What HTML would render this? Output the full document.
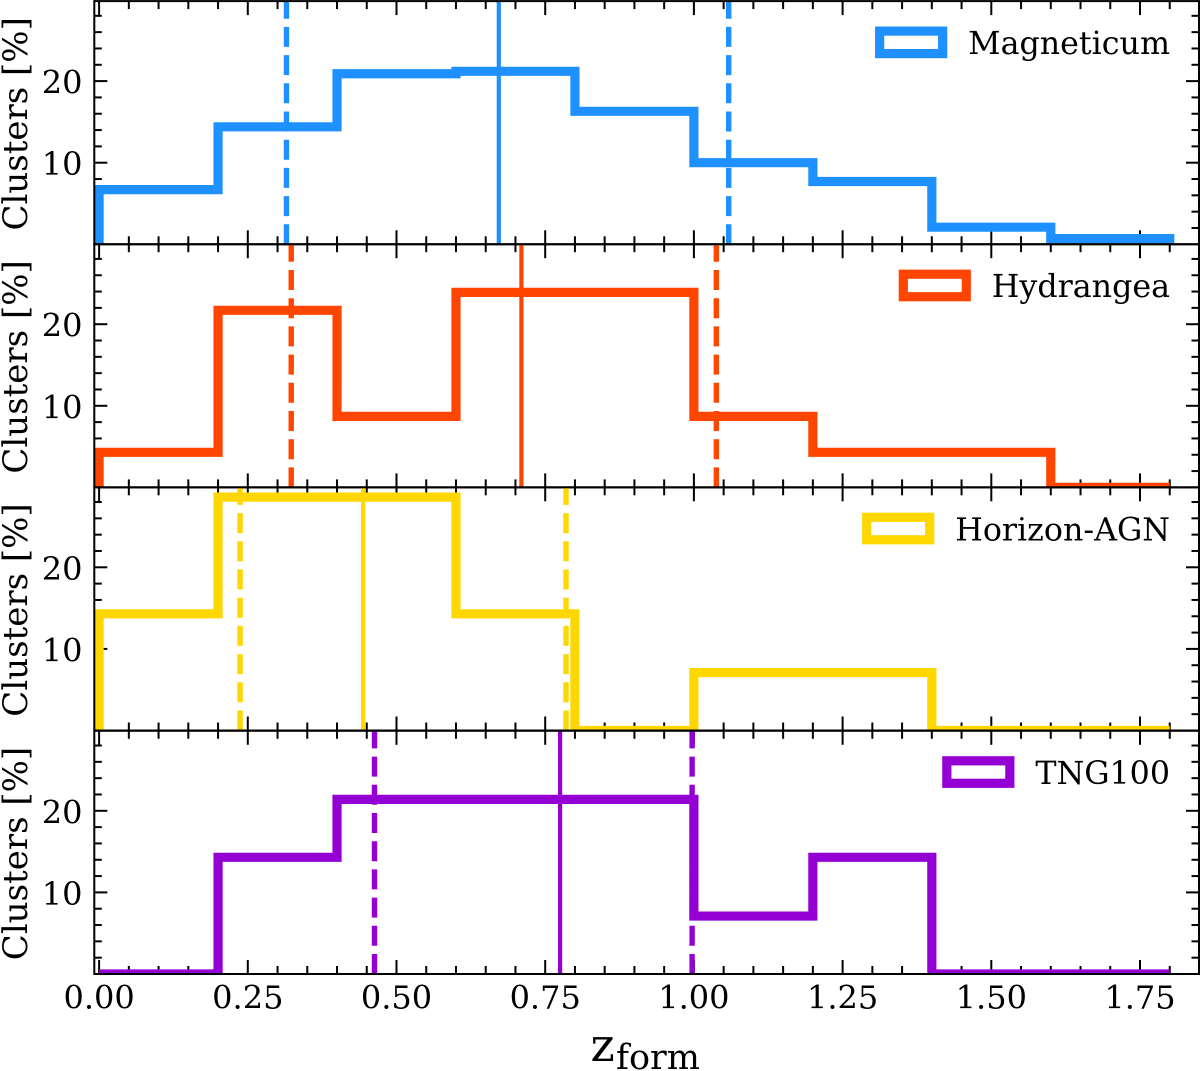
<!DOCTYPE html>
<html>
<head>
<meta charset="utf-8">
<title>Cluster formation redshift histograms</title>
<style>
html,body{margin:0;padding:0;background:#fff;width:1200px;height:1071px;overflow:hidden}
svg{display:block}
text{font-family:"DejaVu Serif","Liberation Serif",serif;fill:#000}
</style>
</head>
<body>
<svg id="chart" width="1200" height="1071" viewBox="0 0 1200 1071" xmlns="http://www.w3.org/2000/svg"></svg>
<script>
const binEdges = [0, 0.2, 0.4, 0.6, 0.8, 1.0, 1.2, 1.4, 1.6, 1.8];
const simulations = ['Magneticum', 'Hydrangea', 'Horizon-AGN', 'TNG100'];
const magneticumValues = [6.7, 14.4, 20.9, 21.2, 16.3, 10.0, 7.7, 2.1, 0.7];
const hydrangeaValues = [4.3, 21.7, 8.7, 23.9, 23.9, 8.7, 4.3, 4.3, 0];
const horizonValues = [14.3, 28.6, 28.6, 14.3, 0, 7.1, 7.1, 0, 0];
const tngValues = [0, 14.3, 21.4, 21.4, 21.4, 7.1, 14.3, 0, 0];
const medians = [0.672, 0.71, 0.444, 0.775];
const lowerQuartiles = [0.315, 0.323, 0.237, 0.463];
const upperQuartiles = [1.0585, 1.0377, 0.785, 0.997];
const xTickLabels = ['0.00', '0.25', '0.50', '0.75', '1.00', '1.25', '1.50', '1.75'];
const xMajorTicks = [0, 0.25, 0.5, 0.75, 1.0, 1.25, 1.5, 1.75];
const yMajorTicks = [10, 20];
const yTickLabels = ['10', '20'];
const colors = ['#1E90FF', '#FF4500', '#FFD700', '#9400D3'];

const allValues = [magneticumValues, hydrangeaValues, horizonValues, tngValues];
const NS = 'http://www.w3.org/2000/svg';
const svg = document.getElementById('chart');
const left = 94.3, right = 1199;
const panelBottoms = [244.3, 487.4, 730.5, 974];
const panelHeight = 243.2;
const xScale = z => 99.1 + z * 594.8;
const yScale = (v, i) => panelBottoms[i] - v * 8.16;

function make(tag, attrs, parent, text) {
  const el = document.createElementNS(NS, tag);
  for (const k in attrs) el.setAttribute(k, attrs[k]);
  if (text !== undefined) el.textContent = text;
  parent.appendChild(el);
  return el;
}

const defs = make('defs', {}, svg);

simulations.forEach((name, i) => {
  const key = name.toLowerCase();
  const bottom = panelBottoms[i];
  const top = bottom - panelHeight;
  const color = colors[i];

  const clip = make('clipPath', { id: 'clip' + i }, defs);
  make('rect', { x: left, y: top, width: right - left, height: panelHeight }, clip);

  const panel = make('g', {}, svg);
  
  

  // Ticks
  const ticks = make('g', { stroke: '#000', 'stroke-width': 2, fill: 'none' }, panel);
  
  
  for (let n = 0; n * 0.05 <= 1.81; n++) {
    const z = n * 0.05;
    const len = n % 5 === 0 ? 14 : 8;
    const xp = xScale(z);
    make('line', { x1: xp, x2: xp, y1: bottom, y2: bottom - len }, ticks);
    make('line', { x1: xp, x2: xp, y1: top, y2: top + len }, ticks);
  }
  for (let v = 2; v <= 28; v += 2) {
    const len = yMajorTicks.includes(v) ? 13 : 7.5;
    const yp = yScale(v, i);
    make('line', { x1: left, x2: left + len, y1: yp, y2: yp }, ticks);
    make('line', { x1: right, x2: right - len, y1: yp, y2: yp }, ticks);
  }

  // Histogram + reference lines
  const clipped = make('g', { 'clip-path': 'url(#clip' + i + ')' }, panel);
  const vals = allValues[i];
  let d = 'M' + xScale(binEdges[0]) + ' ' + yScale(0, i);
  vals.forEach((v, b) => {
    d += 'L' + xScale(binEdges[b]) + ' ' + yScale(v, i);
    d += 'L' + xScale(binEdges[b + 1]) + ' ' + yScale(v, i);
  });
  d += 'L' + xScale(binEdges[binEdges.length - 1]) + ' ' + yScale(0, i);
  const hist = make('path', { d: d, fill: 'none', stroke: color, 'stroke-width': 9.2, 'stroke-linejoin': 'miter', 'stroke-linecap': 'butt' }, clipped);
  
  

  const med = make('line', { x1: xScale(medians[i]), x2: xScale(medians[i]), y1: bottom, y2: top, stroke: color, 'stroke-width': 4.2 }, clipped);
  
  

  const lo = make('line', { x1: xScale(lowerQuartiles[i]), x2: xScale(lowerQuartiles[i]), y1: bottom, y2: top, stroke: color, 'stroke-width': 5.4, 'stroke-dasharray': '20 8.2' }, clipped);
  
  

  const hi = make('line', { x1: xScale(upperQuartiles[i]), x2: xScale(upperQuartiles[i]), y1: bottom, y2: top, stroke: color, 'stroke-width': 5.4, 'stroke-dasharray': '20 8.2' }, clipped);
  
  

  // Spines
  const frame = make('rect', { x: left, y: top, width: right - left, height: panelHeight, fill: 'none', stroke: '#000', 'stroke-width': 2 }, panel);
  
  

  // Y tick labels
  yMajorTicks.forEach((v, t) => {
    const lab = make('text', { x: 82.5, y: yScale(v, i) + 12.5, 'text-anchor': 'end', 'font-size': 32 }, panel, yTickLabels[t]);
    
    
  });

  // Y axis title
  const cy = bottom - 120.5;
  const yTitle = make('text', { x: 0, y: 0, transform: 'translate(27 ' + cy + ') rotate(-90)', 'text-anchor': 'middle', 'font-size': 34 }, panel, 'Clusters [%]');
  
  

  // Legend
  const legend = make('g', {}, panel);
  
  
  const legendText = make('text', { x: 1170, y: top + 53, 'text-anchor': 'end', 'font-size': 31.7 }, legend, name);
  
  
  const tw = legendText.getComputedTextLength();
  const swatch = make('rect', { x: 1170 - tw - 88.5, y: top + 30, width: 63, height: 22.5, fill: 'none', stroke: color, 'stroke-width': 9.2 }, legend);
  
  
});

// X tick labels
xMajorTicks.forEach((z, t) => {
  const lab = make('text', { x: xScale(z), y: 1008.3, 'text-anchor': 'middle', 'font-size': 32 }, svg, xTickLabels[t]);
  
  
});

// X axis title
const xTitle = make('text', { x: 590.5, y: 1061, 'font-size': 46 }, svg, 'z');


const xSub = make('text', { x: 616, y: 1069, 'font-size': 35 }, svg, 'form');


</script>
</body>
</html>
